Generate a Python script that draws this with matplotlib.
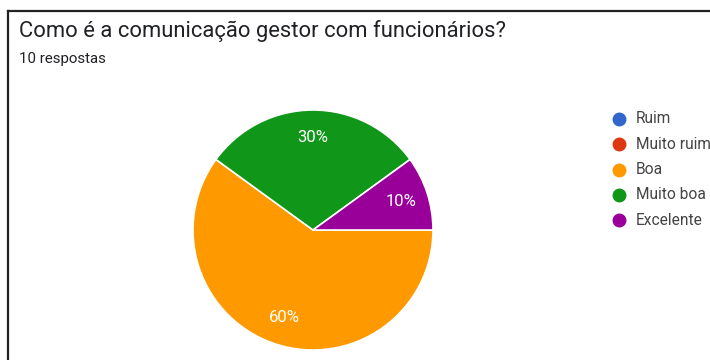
import matplotlib.pyplot as plt
from matplotlib.lines import Line2D

plt.rcParams['font.family'] = ['Roboto', 'DejaVu Sans']

# Survey answers
title = 'Como é a comunicação gestor com funcionários?'
subtitle = '10 respostas'
categories = ['Ruim', 'Muito ruim', 'Boa', 'Muito boa', 'Excelente']
percent = [0, 0, 60, 30, 10]
colors = ['#3366cc', '#dc3912', '#ff9900', '#109618', '#990099']

fig = plt.figure(figsize=(7.1, 3.6), dpi=100)

# pie axes, square in pixels
W, H = 710, 360
ax = fig.add_axes([193 / W, 10 / H, 240 / W, 240 / H])

def fmt(p):
    return f'{p:.0f}%' if p > 0 else ''

wedges, texts, autotexts = ax.pie(
    percent, colors=colors, startangle=0, counterclock=False,
    autopct=fmt, pctdistance=0.77,
    wedgeprops=dict(edgecolor='white', linewidth=1.2),
    textprops=dict(color='white', fontsize=12))
ax.set_xlim(-1, 1)
ax.set_ylim(-1, 1)

# title and subtitle
fig.text(19 / W, 1 - 20 / H, title, fontsize=15.8, color='#202124', va='top', ha='left')
fig.text(19 / W, 1 - 52 / H, subtitle, fontsize=10.8, color='#202124', va='top', ha='left')

# legend drawn row by row
for i, (name, c) in enumerate(zip(categories, colors)):
    y = 1 - (119 + i * 25.3) / H
    fig.add_artist(Line2D([619 / W], [y], marker='o', markersize=9, color=c,
                          linestyle='none', transform=fig.transFigure))
    fig.text(636 / W, y, name, fontsize=11.2, color='#444444', va='center', ha='left')

# frame lines (top and left)
fig.add_artist(Line2D([8 / W, 1], [1 - 11 / H, 1 - 11 / H], color='#222222', linewidth=1.6,
                      transform=fig.transFigure))
fig.add_artist(Line2D([8 / W, 8 / W], [0, 1 - 11 / H], color='#222222', linewidth=1.6,
                      transform=fig.transFigure))

fig.savefig('out.png', dpi=100)
